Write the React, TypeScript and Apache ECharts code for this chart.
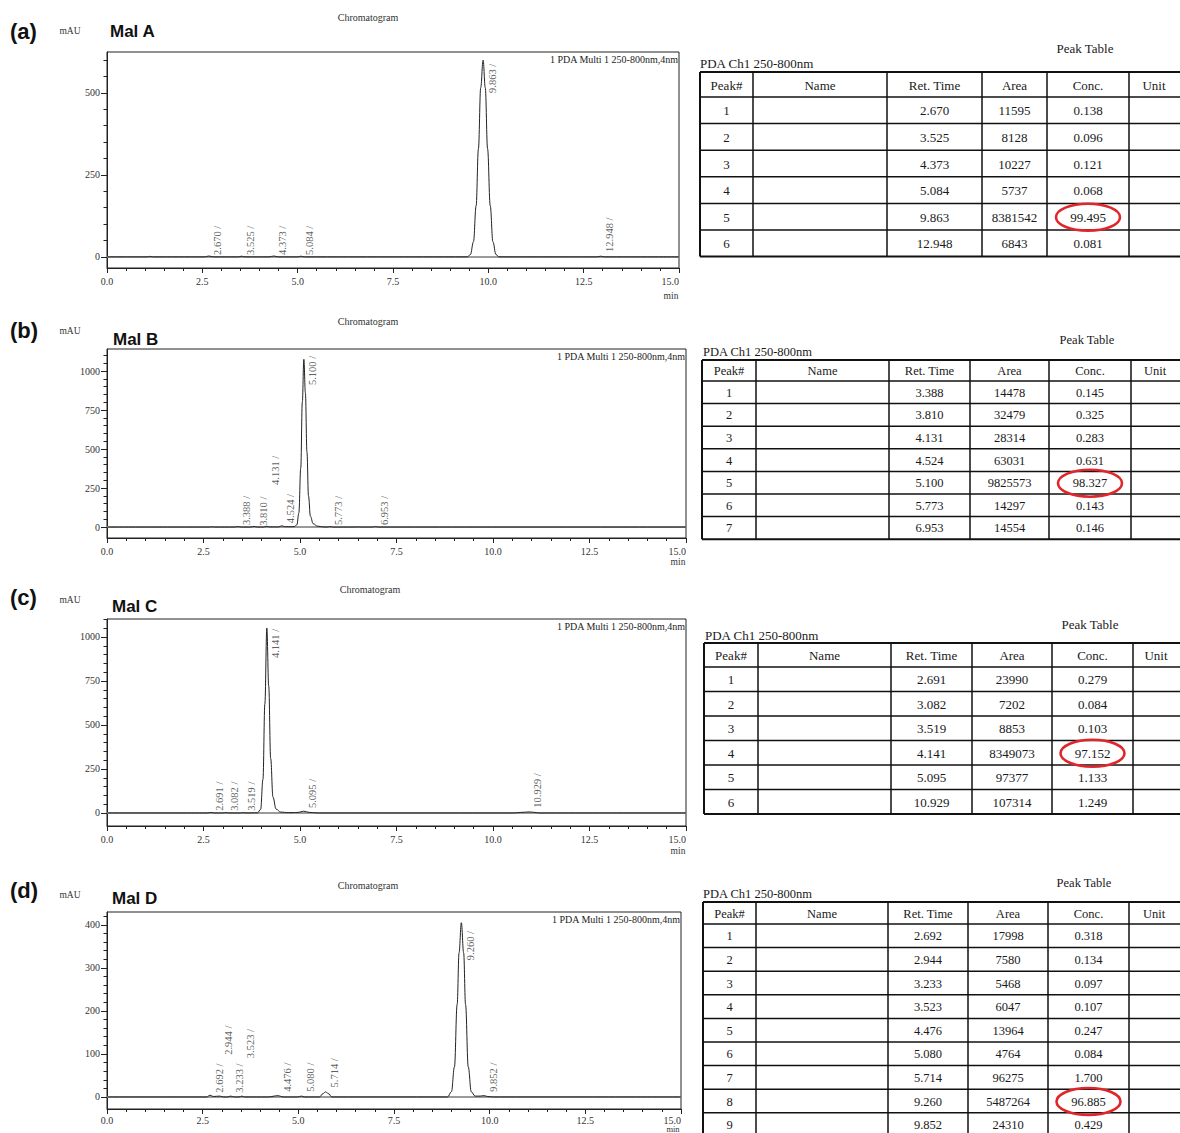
import React, { useEffect, useRef } from "react";
import * as echarts from "echarts";

type Pt = [number, number];

const SERIF = '"Liberation Serif", "Times New Roman", serif';
const SANS = '"Liberation Sans", Arial, sans-serif';

const tableHeaders = ["Peak#", "Name", "Ret. Time", "Area", "Conc.", "Unit"];
const timeTickLabels = ["0.0", "2.5", "5.0", "7.5", "10.0", "12.5", "15.0"];

// ---------- (a) Mal A ----------
const retA = ["2.670", "3.525", "4.373", "5.084", "9.863", "12.948"];
const areaA = ["11595", "8128", "10227", "5737", "8381542", "6843"];
const concA = ["0.138", "0.096", "0.121", "0.068", "99.495", "0.081"];
const labelBaseA = [6, 6, 6, 6, 500, 15];
const traceA: Pt[] = [
  [0, 0], [1.05, 0], [1.12, 1.5], [1.2, 0], [2.55, 0], [2.67, 2.5], [2.8, 0],
  [3.45, 0], [3.525, 2], [3.62, 0], [4.25, 0], [4.373, 2.5], [4.5, 0],
  [5.0, 0], [5.084, 2], [5.18, 0], [9.45, 0], [9.53, 7], [9.61, 46], [9.68, 156],
  [9.74, 330], [9.8, 516], [9.863, 600], [9.92, 516], [9.98, 330], [10.05, 156],
  [10.12, 46], [10.2, 7], [10.28, 0], [12.85, 0], [12.948, 2], [13.05, 0], [15, 0],
];

// ---------- (b) Mal B ----------
const retB = ["3.388", "3.810", "4.131", "4.524", "5.100", "5.773", "6.953"];
const areaB = ["14478", "32479", "28314", "63031", "9825573", "14297", "14554"];
const concB = ["0.145", "0.325", "0.283", "0.631", "98.327", "0.143", "0.146"];
const labelBaseB = [13, 8, 270, 25, 910, 13, 13];
const traceB: Pt[] = [
  [0, 0], [2.65, 0], [2.72, 1.5], [2.8, 0], [3.3, 0], [3.388, 3], [3.48, 0],
  [3.72, 0], [3.81, 4], [3.9, 0], [4.05, 0], [4.131, 4], [4.22, 1], [4.45, 1],
  [4.524, 8], [4.6, 3], [4.7, 2], [4.85, 3], [4.92, 15], [4.97, 90], [5.02, 380],
  [5.06, 800], [5.1, 1075], [5.14, 860], [5.18, 480], [5.22, 200], [5.27, 70],
  [5.34, 22], [5.45, 6], [5.6, 1], [5.7, 0], [5.773, 3], [5.86, 0], [6.4, 0],
  [6.5, 1], [6.6, 0], [6.88, 0], [6.953, 3], [7.03, 0], [15, 0],
];

// ---------- (c) Mal C ----------
const retC = ["2.691", "3.082", "3.519", "4.141", "5.095", "10.929"];
const areaC = ["23990", "7202", "8853", "8349073", "97377", "107314"];
const concC = ["0.279", "0.084", "0.103", "97.152", "1.133", "1.249"];
const labelBaseC = [12, 12, 12, 880, 28, 30];
const traceC: Pt[] = [
  [0, 0], [2.6, 0], [2.691, 3], [2.78, 0], [3.0, 0], [3.082, 2], [3.16, 0],
  [3.45, 0], [3.519, 2], [3.6, 0], [3.9, 1], [3.98, 20], [4.04, 190], [4.09, 620],
  [4.141, 1050], [4.19, 720], [4.24, 310], [4.3, 90], [4.38, 22], [4.5, 5],
  [4.7, 2], [4.95, 3], [5.095, 10], [5.25, 3], [5.5, 0], [10.5, 0], [10.8, 4],
  [10.929, 6], [11.05, 4], [11.2, 0], [15, 0],
];

// ---------- (d) Mal D ----------
const retD = ["2.692", "2.944", "3.233", "3.523", "4.476", "5.080", "5.714", "9.260", "9.852"];
const areaD = ["17998", "7580", "5468", "6047", "13964", "4764", "96275", "5487264", "24310"];
const concD = ["0.318", "0.134", "0.097", "0.107", "0.247", "0.084", "1.700", "96.885", "0.429"];
const labelBaseD = [10, 98, 10, 90, 12, 12, 22, 318, 12];
const traceD: Pt[] = [
  [0, 0], [2.6, 0], [2.692, 4], [2.78, 1], [2.944, 2], [3.05, 0], [3.15, 0],
  [3.233, 2], [3.33, 0], [3.45, 0], [3.523, 2], [3.6, 0], [4.2, 0], [4.476, 3],
  [4.6, 0], [4.98, 0], [5.08, 2], [5.16, 0], [5.55, 0], [5.65, 8], [5.714, 12],
  [5.78, 8], [5.88, 0], [8.9, 0], [9.0, 12], [9.08, 70], [9.15, 215], [9.2, 335],
  [9.26, 405], [9.32, 335], [9.37, 215], [9.44, 70], [9.52, 12], [9.62, 2],
  [9.75, 2], [9.852, 3], [9.95, 1], [10.1, 0], [15, 0],
];

const yMajorA = [0, 250, 500];
const yMajorB = [0, 250, 500, 750, 1000];
const yMajorC = [0, 250, 500, 750, 1000];
const yMajorD = [0, 100, 200, 300, 400];

const panelData = [
  { letter: "(a)", name: "Mal A", ret: retA, area: areaA, conc: concA, labelBase: labelBaseA, trace: traceA, major: yMajorA, minorStep: 50 },
  { letter: "(b)", name: "Mal B", ret: retB, area: areaB, conc: concB, labelBase: labelBaseB, trace: traceB, major: yMajorB, minorStep: 50 },
  { letter: "(c)", name: "Mal C", ret: retC, area: areaC, conc: concC, labelBase: labelBaseC, trace: traceC, major: yMajorC, minorStep: 50 },
  { letter: "(d)", name: "Mal D", ret: retD, area: areaD, conc: concD, labelBase: labelBaseD, trace: traceD, major: yMajorD, minorStep: 20 },
];

// layout (pixels)
const layouts = [
  { left: 107, top: 52, width: 572, height: 216, yMin: -34, yMax: 625, letterY: 31, nameX: 110, nameY: 31, mauY: 31, chromX: 368, chromY: 17, minY: 296, xMargin: 8, minFs: 9.5,
    table: { cols: [700, 753, 887, 982, 1047, 1129, 1183], top: 72, headH: 25, rowH: 26.6, titleX: 1085, titleY: 48, subX: 700, subY: 63, fs: 13 } },
  { left: 107, top: 349, width: 579, height: 189, yMin: -70, yMax: 1141, letterY: 330, nameX: 113, nameY: 339, mauY: 331, chromX: 368, chromY: 321, minY: 562, xMargin: 8, minFs: 9.5,
    table: { cols: [702, 756, 889, 970, 1049, 1131, 1183], top: 360, headH: 21, rowH: 22.6, titleX: 1087, titleY: 340, subX: 703, subY: 352, fs: 12.5 } },
  { left: 107, top: 619, width: 579, height: 207, yMin: -74, yMax: 1102, letterY: 597, nameX: 112, nameY: 606, mauY: 600, chromX: 370, chromY: 589, minY: 851, xMargin: 8, minFs: 9.5,
    table: { cols: [704, 758, 891, 972, 1052, 1133, 1183], top: 643, headH: 24, rowH: 24.5, titleX: 1090, titleY: 624, subX: 705, subY: 635, fs: 13 } },
  { left: 107, top: 912, width: 574, height: 197, yMin: -28, yMax: 430, letterY: 890, nameX: 112, nameY: 898, mauY: 895, chromX: 368, chromY: 885, minY: 1129, xMargin: 6, minFs: 8.5,
    table: { cols: [703, 756, 888, 968, 1048, 1129, 1183], top: 902, headH: 22, rowH: 23.6, titleX: 1084, titleY: 883, subX: 703, subY: 894, fs: 12.5 } },
];

function txt(x: number, y: number, text: string, font: string, align = "left", fill = "#222", vAlign = "middle") {
  return { type: "text", x, y, silent: true, style: { text, font, fill, align, verticalAlign: vAlign } };
}

function ln(x1: number, y1: number, x2: number, y2: number, w = 1.5) {
  return { type: "line", silent: true, shape: { x1, y1, x2, y2 }, style: { stroke: "#111", lineWidth: w } };
}

function buildTable(t: any, ret: string[], area: string[], conc: string[]) {
  const els: any[] = [];
  const n = ret.length;
  const c = t.cols;
  const right = c[c.length - 1];
  const bottom = t.top + t.headH + n * t.rowH;
  els.push(txt(t.titleX, t.titleY, "Peak Table", `${t.fs}px ${SERIF}`, "center", "#1a1a1a"));
  els.push(txt(t.subX, t.subY, "PDA Ch1 250-800nm", `${t.fs}px ${SERIF}`, "left", "#1a1a1a"));
  const ys = [t.top, t.top + t.headH];
  for (let i = 1; i <= n; i++) ys.push(t.top + t.headH + i * t.rowH);
  ys.forEach((y, i) => els.push(ln(c[0], y, right, y, i === 0 || i === ys.length - 1 ? 2 : 1.5)));
  c.forEach((x: number, j: number) => els.push(ln(x, t.top, x, bottom, j === 0 ? 2 : 1.5)));
  const font = `${t.fs}px ${SERIF}`;
  tableHeaders.forEach((h, j) => {
    els.push(txt((c[j] + c[j + 1]) / 2 + (j === 5 ? -2 : 0), t.top + t.headH / 2 + 0.5, h, font, "center", "#1a1a1a"));
  });
  for (let i = 0; i < n; i++) {
    const cy = t.top + t.headH + (i + 0.5) * t.rowH + 0.5;
    const cells = [String(i + 1), "", ret[i], area[i], conc[i], ""];
    cells.forEach((v, j) => {
      if (v) els.push(txt((c[j] + c[j + 1]) / 2, cy, v, font, "center", "#1a1a1a"));
    });
  }
  // red ellipse around the largest concentration
  const concNum = conc.map((v) => parseFloat(v));
  const k = concNum.indexOf(Math.max(...concNum));
  els.push({
    type: "ellipse",
    silent: true,
    z: 10,
    shape: { cx: (c[4] + c[5]) / 2, cy: t.top + t.headH + (k + 0.5) * t.rowH + 0.5, rx: 32, ry: 13.5 },
    style: { fill: "none", stroke: "#e0262b", lineWidth: 2.6 },
  });
  return els;
}

function buildOption() {
  const grid: any[] = [];
  const xAxis: any[] = [];
  const yAxis: any[] = [];
  const series: any[] = [];
  const graphic: any[] = [];
  const axisFont = { fontFamily: SERIF, fontSize: 10, color: "#333" };

  panelData.forEach((p, i) => {
    const L = layouts[i];
    grid.push({ left: L.left, top: L.top, width: L.width, height: L.height, show: true, borderColor: "#222", borderWidth: 1, backgroundColor: "transparent" });
    xAxis.push({
      type: "value", gridIndex: i, min: 0, max: 15, interval: 2.5,
      axisLine: { show: true, onZero: false, lineStyle: { color: "#222", width: 1 } },
      axisTick: { show: true, length: 5, lineStyle: { color: "#222" } },
      minorTick: { show: true, splitNumber: 5, length: 3, lineStyle: { color: "#222" } },
      axisLabel: { ...axisFont, margin: L.xMargin, alignMaxLabel: "right", formatter: (v: number) => timeTickLabels[Math.round(v / 2.5)] ?? v.toFixed(1) },
      splitLine: { show: false },
    });
    const minorVals: number[] = [];
    for (let v = 0; v <= L.yMax; v += p.minorStep) minorVals.push(v);
    yAxis.push({
      type: "value", gridIndex: i, min: L.yMin, max: L.yMax, position: "left",
      axisLine: { show: true, onZero: false, lineStyle: { color: "#222", width: 1 } },
      axisTick: { show: true, length: 3.5, customValues: minorVals, lineStyle: { color: "#222" } },
      axisLabel: { show: false },
      splitLine: { show: false },
    });
    yAxis.push({
      type: "value", gridIndex: i, min: L.yMin, max: L.yMax, position: "left",
      axisLine: { show: false },
      axisTick: { show: true, length: 6, customValues: p.major, lineStyle: { color: "#222" } },
      axisLabel: { show: true, ...axisFont, margin: 7, customValues: p.major, formatter: (v: number) => String(v) },
      splitLine: { show: false },
    });
    series.push({
      type: "line", xAxisIndex: i, yAxisIndex: 2 * i, data: p.trace, showSymbol: false,
      smooth: 0.4, smoothMonotone: "x", lineStyle: { color: "#222", width: 1 }, z: 3,
      markLine: {
        silent: true, symbol: "none", label: { show: false }, z: 2,
        lineStyle: { color: "#9a9a9a", width: 2, type: "solid" },
        data: [{ yAxis: 0 }],
      },
    });
    series.push({
      type: "scatter", xAxisIndex: i, yAxisIndex: 2 * i, symbolSize: 0, silent: true, z: 4,
      data: p.ret.map((r, k) => ({ name: r, value: [parseFloat(r), p.labelBase[k]] })),
      label: {
        show: true, position: "right", distance: 9, rotate: 90, align: "left", verticalAlign: "middle",
        formatter: "{b} /", fontFamily: SERIF, fontSize: 10.5, color: "#333",
      },
    });
    const right = L.left + L.width;
    graphic.push(txt(10, L.letterY, p.letter, `bold 22px ${SANS}`, "left", "#111"));
    graphic.push(txt(70, L.mauY, "mAU", `9.5px ${SERIF}`, "center", "#333"));
    graphic.push(txt(L.nameX, L.nameY, p.name, `bold 17px ${SANS}`, "left", "#111"));
    graphic.push(txt(L.chromX, L.chromY, "Chromatogram", `10px ${SERIF}`, "center", "#333"));
    graphic.push(txt(right - 1, L.top + 7, "1 PDA Multi 1 250-800nm,4nm", `10px ${SERIF}`, "right", "#222"));
    graphic.push(txt(right - 8, L.minY, "min", `${L.minFs}px ${SERIF}`, "center", "#333"));
    graphic.push(...buildTable(L.table, p.ret, p.area, p.conc));
  });

  return {
    animation: false,
    backgroundColor: "#ffffff",
    grid, xAxis, yAxis, series,
    graphic: { elements: graphic },
  };
}

export default function App() {
  const ref = useRef<HTMLDivElement>(null);
  useEffect(() => {
    if (!ref.current) return;
    const chart = echarts.init(ref.current, null, { renderer: "svg" });
    chart.setOption(buildOption() as any);
    return () => chart.dispose();
  }, []);
  return <div ref={ref} style={{ position: "absolute", left: 0, top: 0, width: 1180, height: 1133, background: "#fff" }} />;
}
